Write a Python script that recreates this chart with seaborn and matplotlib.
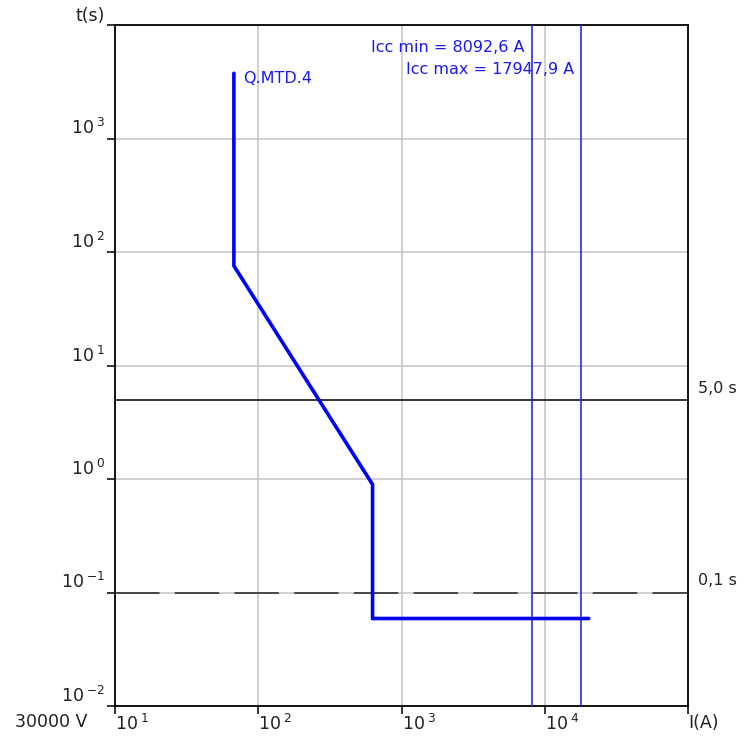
import matplotlib
matplotlib.use("Agg")
import matplotlib.pyplot as plt
import seaborn as sns
import pandas as pd

# Data
curve_current = [67.6, 67.6, 628, 628, 20280]
curve_time = [3752, 75.5, 0.895, 0.059, 0.059]
curve_label = "Q.MTD.4"
icc_values = [8092.6, 17947.9]
icc_labels = ["Icc min = 8092,6 A", "Icc max = 17947,9 A"]
time_limits = [5.0, 0.1]
time_labels = ["5,0 s", "0,1 s"]
x_ticks = [1e1, 1e2, 1e3, 1e4, 1e5]
x_ticklabels = [r"$\mathregular{10^{\;1}}$", r"$\mathregular{10^{\;2}}$", r"$\mathregular{10^{\;3}}$",
                r"$\mathregular{10^{\;4}}$", "I(A)"]
y_ticks = [1e-2, 1e-1, 1e0, 1e1, 1e2, 1e3, 1e4]
y_ticklabels = [r"$\mathregular{10^{\;{-}2}}$", r"$\mathregular{10^{\;{-}1}}$", r"$\mathregular{10^{\;0}}$",
                r"$\mathregular{10^{\;1}}$", r"$\mathregular{10^{\;2}}$", r"$\mathregular{10^{\;3}}$", "t(s)"]
voltage_label = "30000 V"

sns.set_theme(style="white")
plt.rcParams["font.family"] = ["DejaVu Sans"]
plt.rcParams["mathtext.fontset"] = "dejavusans"
plt.rcParams["lines.scale_dashes"] = False

fig = plt.figure(figsize=(7.55, 7.36), dpi=100)
ax = fig.add_axes([115/755, 1-706/736, (688-115)/755, (706-25)/736])
ax.set_xscale("log")
ax.set_yscale("log")
ax.set_xlim(1e1, 1e5)
ax.set_ylim(1e-2, 1e4)

# grid
for xv in x_ticks[1:-1]:
    ax.axvline(xv, color="#c8c8c8", lw=1.2, zorder=0)
for yv in y_ticks[1:-1]:
    ax.axhline(yv, color="#c8c8c8", lw=1.2, zorder=0)

# time limit lines
ax.axhline(time_limits[0], color="black", lw=1.1, zorder=2)
l2 = ax.axhline(time_limits[1], color="#222222", lw=1.1, zorder=2)
l2.set_dashes((32, 11))
for tv, tl in zip(time_limits, time_labels):
    ax.annotate(tl, xy=(1.0, tv), xycoords=("axes fraction", "data"),
                xytext=(7, 3), textcoords="offset points", ha="left", va="bottom",
                fontsize=11.5, color="#222222", annotation_clip=False)

# Icc lines
for xv, lab, dy in zip(icc_values, icc_labels, [-22, -45]):
    ax.axvline(xv, color="#2a2ae6", lw=1.2, zorder=3)
    ax.annotate(lab, xy=(xv, 1.0), xycoords=("data", "axes fraction"),
                xytext=(-7, dy), textcoords="offset pixels", ha="right", va="center",
                fontsize=11.5, color="#1a1aee")

# curve
df = pd.DataFrame({"I": curve_current, "t": curve_time})
sns.lineplot(data=df, x="I", y="t", sort=False, estimator=None, color="#0000ff", lw=2.6, ax=ax, zorder=4)
ax.annotate(curve_label, xy=(curve_current[0], curve_time[0]), xytext=(9, -5), textcoords="offset pixels",
            ha="left", va="center", fontsize=11.5, color="#1a1aee")

# ticks
ax.set_xticks(x_ticks)
ax.set_xticklabels(x_ticklabels)
ax.set_yticks(y_ticks)
ax.set_yticklabels(y_ticklabels)
ax.minorticks_off()
ax.tick_params(axis="both", which="major", direction="out", length=6, width=1.1, color="black",
               labelsize=12.5, labelcolor="#222222", left=True, bottom=True)
ax.tick_params(axis="y", pad=1)
ax.tick_params(axis="x", pad=0)
for lab in ax.get_xticklabels():
    lab.set_horizontalalignment("left")
for lab in ax.get_yticklabels():
    lab.set_verticalalignment("bottom")
ax.set_xlabel("")
ax.set_ylabel("")
for s in ax.spines.values():
    s.set_color("black")
    s.set_linewidth(1.3)
    s.set_visible(True)

fig.text(15/755, 1-722/736, voltage_label, ha="left", va="center", fontsize=12.5, color="#222222")

fig.savefig("out.png", dpi=100, facecolor="white")
